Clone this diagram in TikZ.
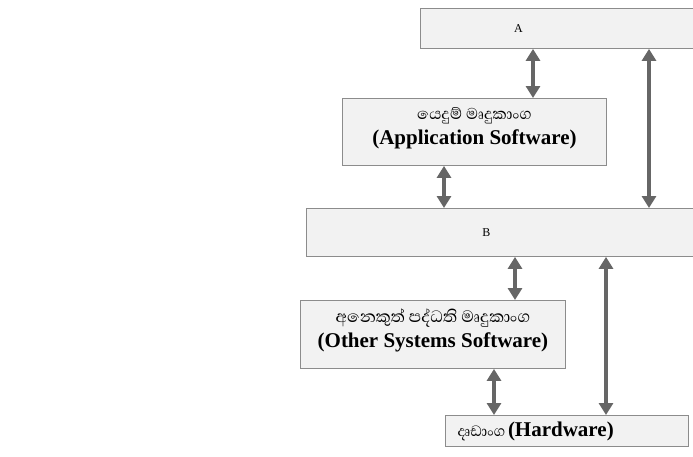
\documentclass[tikz,border=0pt]{standalone}
\usepackage{fontspec}
\setmainfont{Liberation Serif}
\newfontfamily\sinhalafont[Script=Sinhala]{Abhaya Libre}
\usetikzlibrary{arrows.meta}
\begin{document}
\begin{tikzpicture}[x=1pt,y=-1pt,
  box/.style={draw=black!45, fill=black!5, line width=0.9pt, inner sep=0pt, anchor=north west},
  txt/.style={align=center, inner sep=0pt, yshift=4pt},
  darr/.style={draw=black!60, line width=3.6pt,
    {Triangle[width=14pt,length=12pt]}-{Triangle[width=14pt,length=12pt]}}]
\useasboundingbox (0,0) rectangle (693,456);
\clip (0,0) rectangle (693,456);
\fill[white] (0,0) rectangle (693,456);
% boxes
\node[box, minimum width=330pt, minimum height=40pt,
  label={[xshift=-67pt, font=\fontsize{12}{14}\selectfont]center:A}] (A) at (420,8) {};
\node[box, minimum width=264pt, minimum height=67pt,
  label={[txt]center:{{\fontsize{20}{21}\sinhalafont යෙදුම් මෘදුකාංග}\\[5pt]{\fontsize{21}{23}\selectfont\bfseries (Application Software)}}}] (App) at (342,98) {};
\node[box, minimum width=450pt, minimum height=48pt,
  label={[xshift=-45pt, font=\fontsize{12}{14}\selectfont]center:B}] (B) at (306,208) {};
\node[box, minimum width=265pt, minimum height=68pt,
  label={[txt]center:{{\fontsize{21}{21}\sinhalafont අනෙකුත් පද්ධති මෘදුකාංග}\\[5pt]{\fontsize{21}{23}\selectfont\bfseries (Other Systems Software)}}}] (Oth) at (300,300) {};
\node[box, minimum width=243pt, minimum height=31pt,
  label={[anchor=west, xshift=9pt]west:{{\fontsize{19}{21}\sinhalafont දෘඩාංග} {\fontsize{21}{23}\selectfont\bfseries (Hardware)}}}] (HW) at (445,415) {};
% connectors
\draw[darr] (A.south -| 533,0) -- (App.north -| 533,0);
\draw[darr] (A.south -| 649,0) -- (B.north -| 649,0);
\draw[darr] (App.south -| 444,0) -- (B.north -| 444,0);
\draw[darr] (B.south -| 515,0) -- (Oth.north -| 515,0);
\draw[darr] (B.south -| 606,0) -- (HW.north -| 606,0);
\draw[darr] (Oth.south -| 494,0) -- (HW.north -| 494,0);
\end{tikzpicture}
\end{document}
